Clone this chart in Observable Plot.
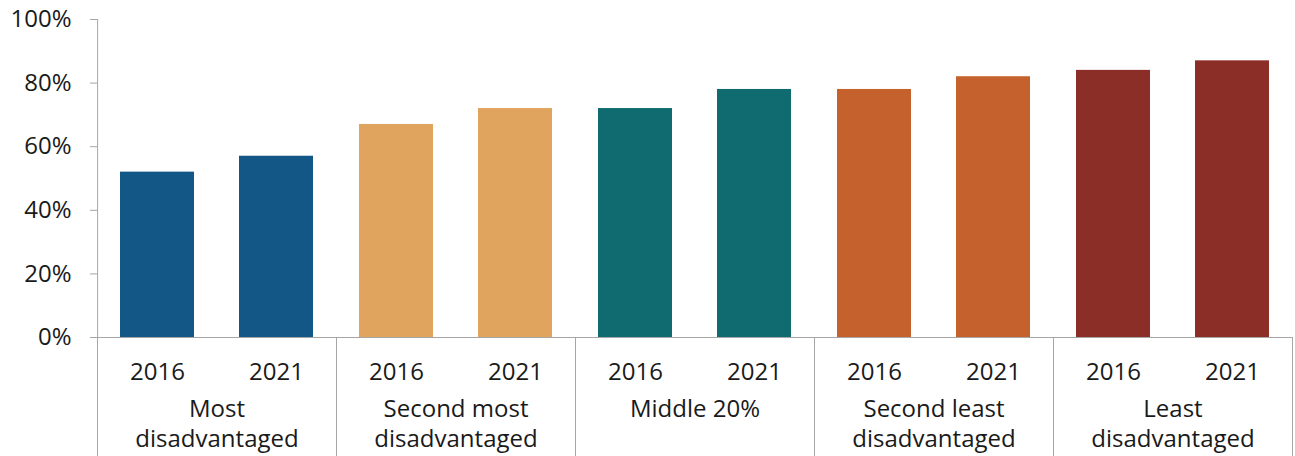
<!DOCTYPE html>
<html>
<head>
<meta charset="utf-8">
<script src="https://cdn.jsdelivr.net/npm/d3@7"></script>
<script src="https://cdn.jsdelivr.net/npm/@observablehq/plot@0.6"></script>
<style>
  html, body { margin: 0; padding: 0; background: #fff; }
  #chart { width: 1295px; height: 456px; }
</style>
</head>
<body>
<div id="chart"></div>
<script>
const groupLabels = [
  "Most\ndisadvantaged",
  "Second most\ndisadvantaged",
  "Middle 20%",
  "Second least\ndisadvantaged",
  "Least\ndisadvantaged"
];
const years = ["2016", "2021"];
const share2016 = [52, 67, 72, 78, 84];
const share2021 = [57, 72, 78, 82, 87];
const groupColors = ["#135786", "#E1A45E", "#0F6B70", "#C5612D", "#8B2E28"];
const yTicks = [0, 20, 40, 60, 80, 100];

const rows = [];
groupLabels.forEach((g, i) => {
  rows.push({group: g, year: years[0], value: share2016[i]});
  rows.push({group: g, year: years[1], value: share2021[i]});
});

const axisGray = "#a6a6a6";
const W = 1295, H = 456, mL = 95, mR = 2, mT = 19, mB = 119;
// half of one band step within a facet: (facet width / 2 bars) / 2
const halfStep = ((W - mL - mR) / groupLabels.length) / years.length / 2;

const chart = Plot.plot({
  width: W,
  height: H,
  marginLeft: mL,
  marginRight: mR,
  marginTop: mT,
  marginBottom: mB,
  style: {fontFamily: "'Open Sans', sans-serif", fontSize: "24px", color: "#1a1a1a", background: "#fff"},
  fx: {domain: groupLabels, padding: 0, axis: null, label: null},
  x: {domain: years, paddingInner: 0.375, paddingOuter: 0.1875, axis: null, label: null},
  y: {domain: [0, 100], axis: null, label: null},
  color: {domain: groupLabels, range: groupColors},
  marks: [
    Plot.barY(rows, {fx: "group", x: "year", y: "value", fill: "group"}),
    Plot.frame({stroke: axisGray, fill: null, insetTop: H - mT - mB, insetBottom: -130}),
    Plot.ruleX([groupLabels[0]], {fx: d => d, x: () => years[0], y1: 0, y2: 100, dx: -halfStep, stroke: axisGray}),
    Plot.axisY({ticks: yTicks, tickFormat: d => d + "%", tickSize: 7, tickPadding: 19, stroke: axisGray, label: null}),
    Plot.axisX({tickSize: 0, tickPadding: 25, label: null}),
    Plot.text(groupLabels, {fx: d => d, text: d => d, frameAnchor: "bottom", lineAnchor: "top", dy: 58, lineHeight: 1.25})
  ]
});
document.getElementById("chart").appendChild(chart);
</script>
</body>
</html>
